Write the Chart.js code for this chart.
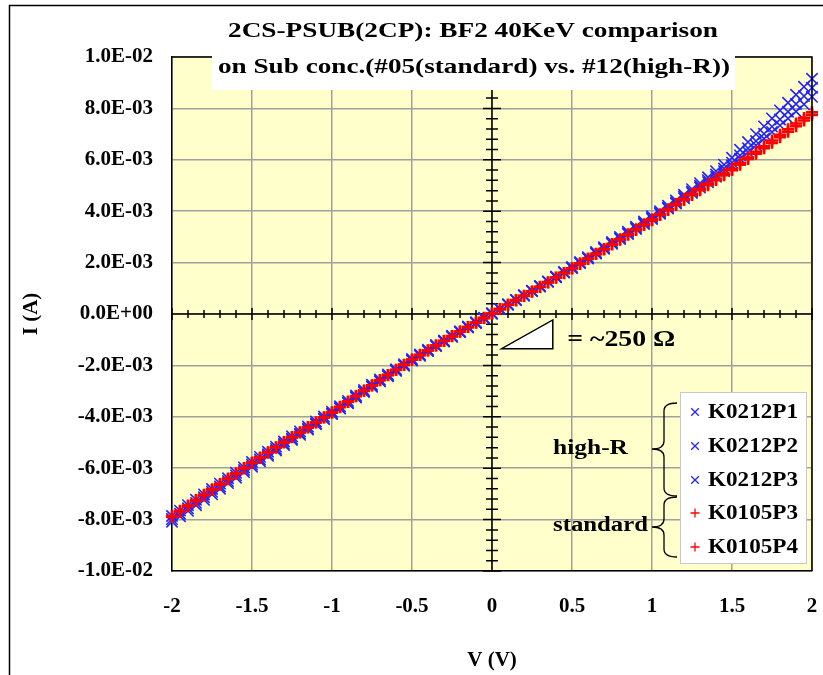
<!DOCTYPE html>
<html>
<head>
<meta charset="utf-8">
<script src="https://cdn.jsdelivr.net/npm/chart.js@4.4.0/dist/chart.umd.min.js"></script>
<style>
  body { margin: 0; background: #fff; }
  canvas { display: block; }
</style>
</head>
<body>
<canvas id="ivChart" width="823" height="675"></canvas>
<script>
// sweep voltage (V)
const voltage = [
  -2.00, -1.95, -1.90, -1.85, -1.80, -1.75, -1.70, -1.65, -1.60, -1.55,
  -1.50, -1.45, -1.40, -1.35, -1.30, -1.25, -1.20, -1.15, -1.10, -1.05,
  -1.00, -0.95, -0.90, -0.85, -0.80, -0.75, -0.70, -0.65, -0.60, -0.55,
  -0.50, -0.45, -0.40, -0.35, -0.30, -0.25, -0.20, -0.15, -0.10, -0.05,
  0.00,
  0.05, 0.10, 0.15, 0.20, 0.25, 0.30, 0.35, 0.40, 0.45, 0.50,
  0.55, 0.60, 0.65, 0.70, 0.75, 0.80, 0.85, 0.90, 0.95, 1.00,
  1.05, 1.10, 1.15, 1.20, 1.25, 1.30, 1.35, 1.40, 1.45, 1.50,
  1.55, 1.60, 1.65, 1.70, 1.75, 1.80, 1.85, 1.90, 1.95, 2.00
];

// measured current, mA (high-R wafer #12)
const k0212p1 = [
  -8.08, -7.87, -7.66, -7.44, -7.23, -7.01, -6.80, -6.58, -6.37, -6.15,
  -5.94, -5.73, -5.52, -5.31, -5.10, -4.90, -4.70, -4.50, -4.29, -4.09,
  -3.89, -3.68, -3.47, -3.25, -3.04, -2.83, -2.62, -2.42, -2.21, -2.01,
  -1.81, -1.63, -1.44, -1.25, -1.07, -0.89, -0.70, -0.52, -0.35, -0.17,
  0.01,
  0.19, 0.37, 0.55, 0.73, 0.91, 1.09, 1.27, 1.46, 1.64, 1.83,
  2.02, 2.21, 2.41, 2.60, 2.80, 3.00, 3.20, 3.40, 3.60, 3.80,
  4.00, 4.21, 4.42, 4.64, 4.86, 5.09, 5.32, 5.56, 5.81, 6.08,
  6.39, 6.69, 7.00, 7.30, 7.61, 7.92, 8.22, 8.53, 8.84, 9.15
];
const k0212p2 = [
  -7.98, -7.77, -7.56, -7.35, -7.13, -6.92, -6.71, -6.50, -6.28, -6.07,
  -5.86, -5.66, -5.46, -5.25, -5.05, -4.85, -4.66, -4.46, -4.26, -4.07,
  -3.87, -3.66, -3.45, -3.23, -3.02, -2.81, -2.61, -2.40, -2.20, -2.00,
  -1.80, -1.61, -1.43, -1.24, -1.06, -0.88, -0.70, -0.52, -0.34, -0.16,
  0.02,
  0.19, 0.37, 0.54, 0.72, 0.90, 1.08, 1.26, 1.44, 1.62, 1.80,
  1.99, 2.18, 2.37, 2.57, 2.76, 2.95, 3.15, 3.35, 3.54, 3.74,
  3.94, 4.14, 4.35, 4.56, 4.77, 4.99, 5.21, 5.43, 5.66, 5.89,
  6.17, 6.45, 6.73, 7.01, 7.29, 7.57, 7.87, 8.17, 8.48, 8.80
];
const k0212p3 = [
  -7.86, -7.65, -7.44, -7.23, -7.02, -6.81, -6.60, -6.39, -6.18, -5.97,
  -5.76, -5.56, -5.36, -5.16, -4.96, -4.76, -4.57, -4.38, -4.18, -3.99,
  -3.80, -3.59, -3.38, -3.17, -2.96, -2.75, -2.55, -2.35, -2.15, -1.95,
  -1.75, -1.57, -1.39, -1.21, -1.03, -0.85, -0.67, -0.49, -0.32, -0.14,
  0.03,
  0.20, 0.37, 0.54, 0.72, 0.89, 1.07, 1.25, 1.43, 1.61, 1.79,
  1.98, 2.16, 2.35, 2.54, 2.73, 2.92, 3.11, 3.31, 3.50, 3.70,
  3.90, 4.10, 4.30, 4.50, 4.71, 4.92, 5.13, 5.34, 5.56, 5.78,
  6.04, 6.30, 6.56, 6.82, 7.08, 7.34, 7.61, 7.88, 8.16, 8.45
];
// standard wafer #05
const k0105p3 = [
  -7.90, -7.69, -7.48, -7.27, -7.06, -6.85, -6.64, -6.43, -6.22, -6.01,
  -5.80, -5.60, -5.40, -5.20, -5.00, -4.80, -4.61, -4.42, -4.22, -4.03,
  -3.84, -3.63, -3.42, -3.20, -2.99, -2.78, -2.58, -2.38, -2.18, -1.98,
  -1.78, -1.60, -1.42, -1.23, -1.05, -0.87, -0.69, -0.51, -0.34, -0.16,
  0.02,
  0.19, 0.36, 0.54, 0.71, 0.88, 1.06, 1.24, 1.42, 1.60, 1.78,
  1.97, 2.16, 2.34, 2.53, 2.72, 2.91, 3.10, 3.30, 3.49, 3.68,
  3.88, 4.08, 4.28, 4.48, 4.68, 4.87, 5.07, 5.26, 5.46, 5.65,
  5.87, 6.09, 6.31, 6.53, 6.75, 6.97, 7.19, 7.41, 7.63, 7.85
];
const k0105p4 = [
  -7.86, -7.66, -7.45, -7.24, -7.03, -6.82, -6.61, -6.40, -6.20, -5.99,
  -5.78, -5.58, -5.38, -5.18, -4.98, -4.79, -4.60, -4.40, -4.21, -4.02,
  -3.82, -3.61, -3.40, -3.19, -2.98, -2.77, -2.57, -2.37, -2.17, -1.97,
  -1.77, -1.59, -1.41, -1.23, -1.04, -0.86, -0.68, -0.51, -0.33, -0.15,
  0.02,
  0.19, 0.36, 0.53, 0.70, 0.87, 1.05, 1.23, 1.41, 1.59, 1.77,
  1.95, 2.14, 2.33, 2.51, 2.70, 2.89, 3.08, 3.27, 3.46, 3.65,
  3.85, 4.05, 4.24, 4.44, 4.63, 4.82, 5.01, 5.21, 5.40, 5.60,
  5.81, 6.03, 6.24, 6.45, 6.66, 6.88, 7.09, 7.31, 7.53, 7.75
];

const seriesNames = ['K0212P1', 'K0212P2', 'K0212P3', 'K0105P3', 'K0105P4'];
const seriesValues = [k0212p1, k0212p2, k0212p3, k0105p3, k0105p4];
const groupNames = ['high-R', 'standard'];
const titleLines = ['2CS-PSUB(2CP): BF2 40KeV comparison',
                    'on Sub conc.(#05(standard) vs. #12(high-R))'];
const resistanceNote = '= ~250 \u03A9';

const SERIF = '"Liberation Serif", "Times New Roman", serif';
const BLUE = '#2424FF';
const RED = '#FF0000';

// 8.0E-03 style labels
function sciLabel(v) {
  if (Math.abs(v) < 1e-12) return '0.0E+00';
  let e = Math.floor(Math.log10(Math.abs(v)) + 1e-9);
  let m = (v / Math.pow(10, e)).toFixed(1);
  let sign = e < 0 ? '-' : '+';
  let ee = String(Math.abs(e)).padStart(2, '0');
  return m + 'E' + sign + ee;
}

// draw text stretched horizontally to a given width
function fitText(ctx, text, x, y, width, align) {
  let w = ctx.measureText(text).width;
  ctx.save();
  ctx.translate(x, y);
  ctx.scale(width / w, 1);
  ctx.textAlign = align;
  ctx.fillText(text, 0, 0);
  ctx.restore();
}

function drawBrace(ctx, xr, xm, tip, y1, mid, y2) {
  let r = 8;
  ctx.beginPath();
  ctx.moveTo(xr, y1);
  ctx.quadraticCurveTo(xm, y1, xm, y1 + r);
  ctx.lineTo(xm, mid - r);
  ctx.quadraticCurveTo(xm, mid, tip, mid);
  ctx.quadraticCurveTo(xm, mid, xm, mid + r);
  ctx.lineTo(xm, y2 - r);
  ctx.quadraticCurveTo(xm, y2, xr, y2);
  ctx.stroke();
}

function marker(ctx, style, color, x, y) {
  ctx.save();
  ctx.strokeStyle = color;
  ctx.lineWidth = 1.3;
  ctx.beginPath();
  let s = 4.5;
  if (style === 'crossRot') {
    s = 3.8;
    ctx.moveTo(x - s, y - s); ctx.lineTo(x + s, y + s);
    ctx.moveTo(x - s, y + s); ctx.lineTo(x + s, y - s);
  } else {
    ctx.moveTo(x - s, y); ctx.lineTo(x + s, y);
    ctx.moveTo(x, y - s); ctx.lineTo(x, y + s);
  }
  ctx.stroke();
  ctx.restore();
}

const plotDecor = {
  id: 'plotDecor',
  beforeDraw(chart) {
    const {ctx, chartArea: a} = chart;
    ctx.save();
    ctx.strokeStyle = '#000';
    ctx.lineWidth = 1.5;
    ctx.strokeRect(9.5, 5.5, 900, 800);
    ctx.fillStyle = '#FFFFCC';
    ctx.fillRect(a.left, a.top, a.right - a.left, a.bottom - a.top);
    ctx.restore();
  },
  beforeDatasetsDraw(chart) {
    // axes through the origin with tick marks
    const {ctx, chartArea: a, scales: {x, y}} = chart;
    const x0 = x.getPixelForValue(0);
    const y0 = y.getPixelForValue(0);
    ctx.save();
    ctx.strokeStyle = '#000';
    ctx.lineWidth = 1.5;
    ctx.beginPath();
    ctx.moveTo(a.left, y0); ctx.lineTo(a.right, y0);
    ctx.moveTo(x0, a.top); ctx.lineTo(x0, a.bottom);
    for (let k = 0; k <= 40; k++) {
      let px = x.getPixelForValue(-2 + k * 0.1);
      let len = k % 5 === 0 ? 6 : 4;
      ctx.moveTo(px, y0 - len); ctx.lineTo(px, y0 + len);
    }
    for (let k = 0; k <= 50; k++) {
      let py = y.getPixelForValue(-0.01 + k * 0.0004);
      let len = k % 5 === 0 ? 9 : 6;
      ctx.moveTo(x0 - len, py); ctx.lineTo(x0 + len, py);
    }
    ctx.stroke();
    ctx.restore();
  },
  afterDraw(chart) {
    const {ctx, chartArea: a, scales: {x, y}} = chart;
    ctx.save();
    // top and right frame of the plot
    ctx.strokeStyle = '#000';
    ctx.lineWidth = 1.5;
    ctx.beginPath();
    ctx.moveTo(a.left, a.top); ctx.lineTo(a.right, a.top); ctx.lineTo(a.right, a.bottom);
    ctx.stroke();

    // title with white box
    ctx.fillStyle = '#fff';
    ctx.fillRect(212, 48, 523, 42);
    ctx.fillStyle = '#000';
    ctx.font = 'bold 21px ' + SERIF;
    ctx.textBaseline = 'middle';
    fitText(ctx, titleLines[0], 473, 32, 490, 'center');
    fitText(ctx, titleLines[1], 474, 68, 512, 'center');

    // resistance triangle
    let tx1 = x.getPixelForValue(0.06), tx2 = x.getPixelForValue(0.38);
    let ty1 = y.getPixelForValue(-0.00135), ty2 = y.getPixelForValue(-0.00023);
    ctx.fillStyle = '#fff';
    ctx.lineWidth = 1.5;
    ctx.beginPath();
    ctx.moveTo(tx1, ty1); ctx.lineTo(tx2, ty1); ctx.lineTo(tx2, ty2); ctx.closePath();
    ctx.fill(); ctx.stroke();
    ctx.fillStyle = '#000';
    ctx.font = 'bold 24px ' + SERIF;
    fitText(ctx, resistanceNote, x.getPixelForValue(0.47), y.getPixelForValue(-0.00102), 108, 'left');

    // legend box
    ctx.fillStyle = '#fff';
    ctx.fillRect(680, 392, 126, 171);
    ctx.strokeStyle = '#C8C8C8';
    ctx.lineWidth = 1;
    ctx.strokeRect(680.5, 392.5, 126, 171);
    const rows = [412, 446, 480, 513, 547];
    ctx.font = 'bold 20px ' + SERIF;
    chart.data.datasets.forEach((ds, i) => {
      marker(ctx, ds.pointStyle, ds.borderColor, 695, rows[i]);
      ctx.fillStyle = '#000';
      fitText(ctx, ds.label, 708, rows[i] + 1, 90, 'left');
    });

    // group braces
    ctx.strokeStyle = '#000';
    ctx.lineWidth = 1.3;
    drawBrace(ctx, 677, 664, 652, 403, 449, 496);
    drawBrace(ctx, 677, 664, 652, 497, 527, 557);
    ctx.fillStyle = '#000';
    ctx.font = 'bold 20px ' + SERIF;
    fitText(ctx, groupNames[0], 553, 449, 75, 'left');
    fitText(ctx, groupNames[1], 553, 526, 95, 'left');
    ctx.restore();
  }
};

const datasets = seriesNames.map((name, i) => {
  const highR = i < 3;
  return {
    label: name,
    data: voltage.map((v, j) => ({x: v, y: seriesValues[i][j] * 1e-3})),
    showLine: false,
    pointStyle: highR ? 'crossRot' : 'cross',
    pointRadius: highR ? 8 : 6,
    pointBorderWidth: highR ? 1.6 : 2.6,
    borderColor: highR ? BLUE : RED,
    backgroundColor: highR ? BLUE : RED,
    order: highR ? 1 : 0,
    clip: false
  };
});

const tickFont = {family: SERIF, size: 21, weight: 'bold'};

new Chart(document.getElementById('ivChart'), {
  type: 'scatter',
  data: {datasets: datasets},
  options: {
    responsive: false,
    animation: false,
    events: [],
    layout: {padding: {top: 57, left: 9, right: 11, bottom: 0}},
    plugins: {
      legend: {display: false},
      title: {display: false},
      tooltip: {enabled: false}
    },
    scales: {
      x: {
        type: 'linear',
        min: -2,
        max: 2,
        ticks: {stepSize: 0.5, color: '#000', font: tickFont, padding: 23, maxRotation: 0, autoSkip: false,
                callback: (v) => String(v)},
        grid: {color: '#A0A0A0', lineWidth: 1.5, drawTicks: false},
        border: {display: true, color: '#000', width: 1.5},
        title: {display: true, text: 'V (V)', color: '#000', font: {family: SERIF, size: 21, weight: 'bold'}, padding: {top: 0, bottom: 2}},
        afterFit(scale) {
          scale.height = 104;
          scale.paddingLeft = 0;
          scale.paddingRight = 0;
        }
      },
      y: {
        type: 'linear',
        min: -0.01,
        max: 0.01,
        ticks: {stepSize: 0.002, color: '#000', font: tickFont, padding: 19, callback: (v) => sciLabel(v)},
        grid: {color: '#A0A0A0', lineWidth: 1.5, drawTicks: false},
        border: {display: true, color: '#000', width: 1.5},
        title: {display: true, text: 'I (A)', color: '#000', font: {family: SERIF, size: 21, weight: 'bold'}, padding: {top: 10, bottom: 0}},
        afterFit(scale) {
          scale.width = 163;
          scale.paddingTop = 0;
          scale.paddingBottom = 0;
        }
      }
    }
  },
  plugins: [plotDecor]
});
</script>
</body>
</html>
